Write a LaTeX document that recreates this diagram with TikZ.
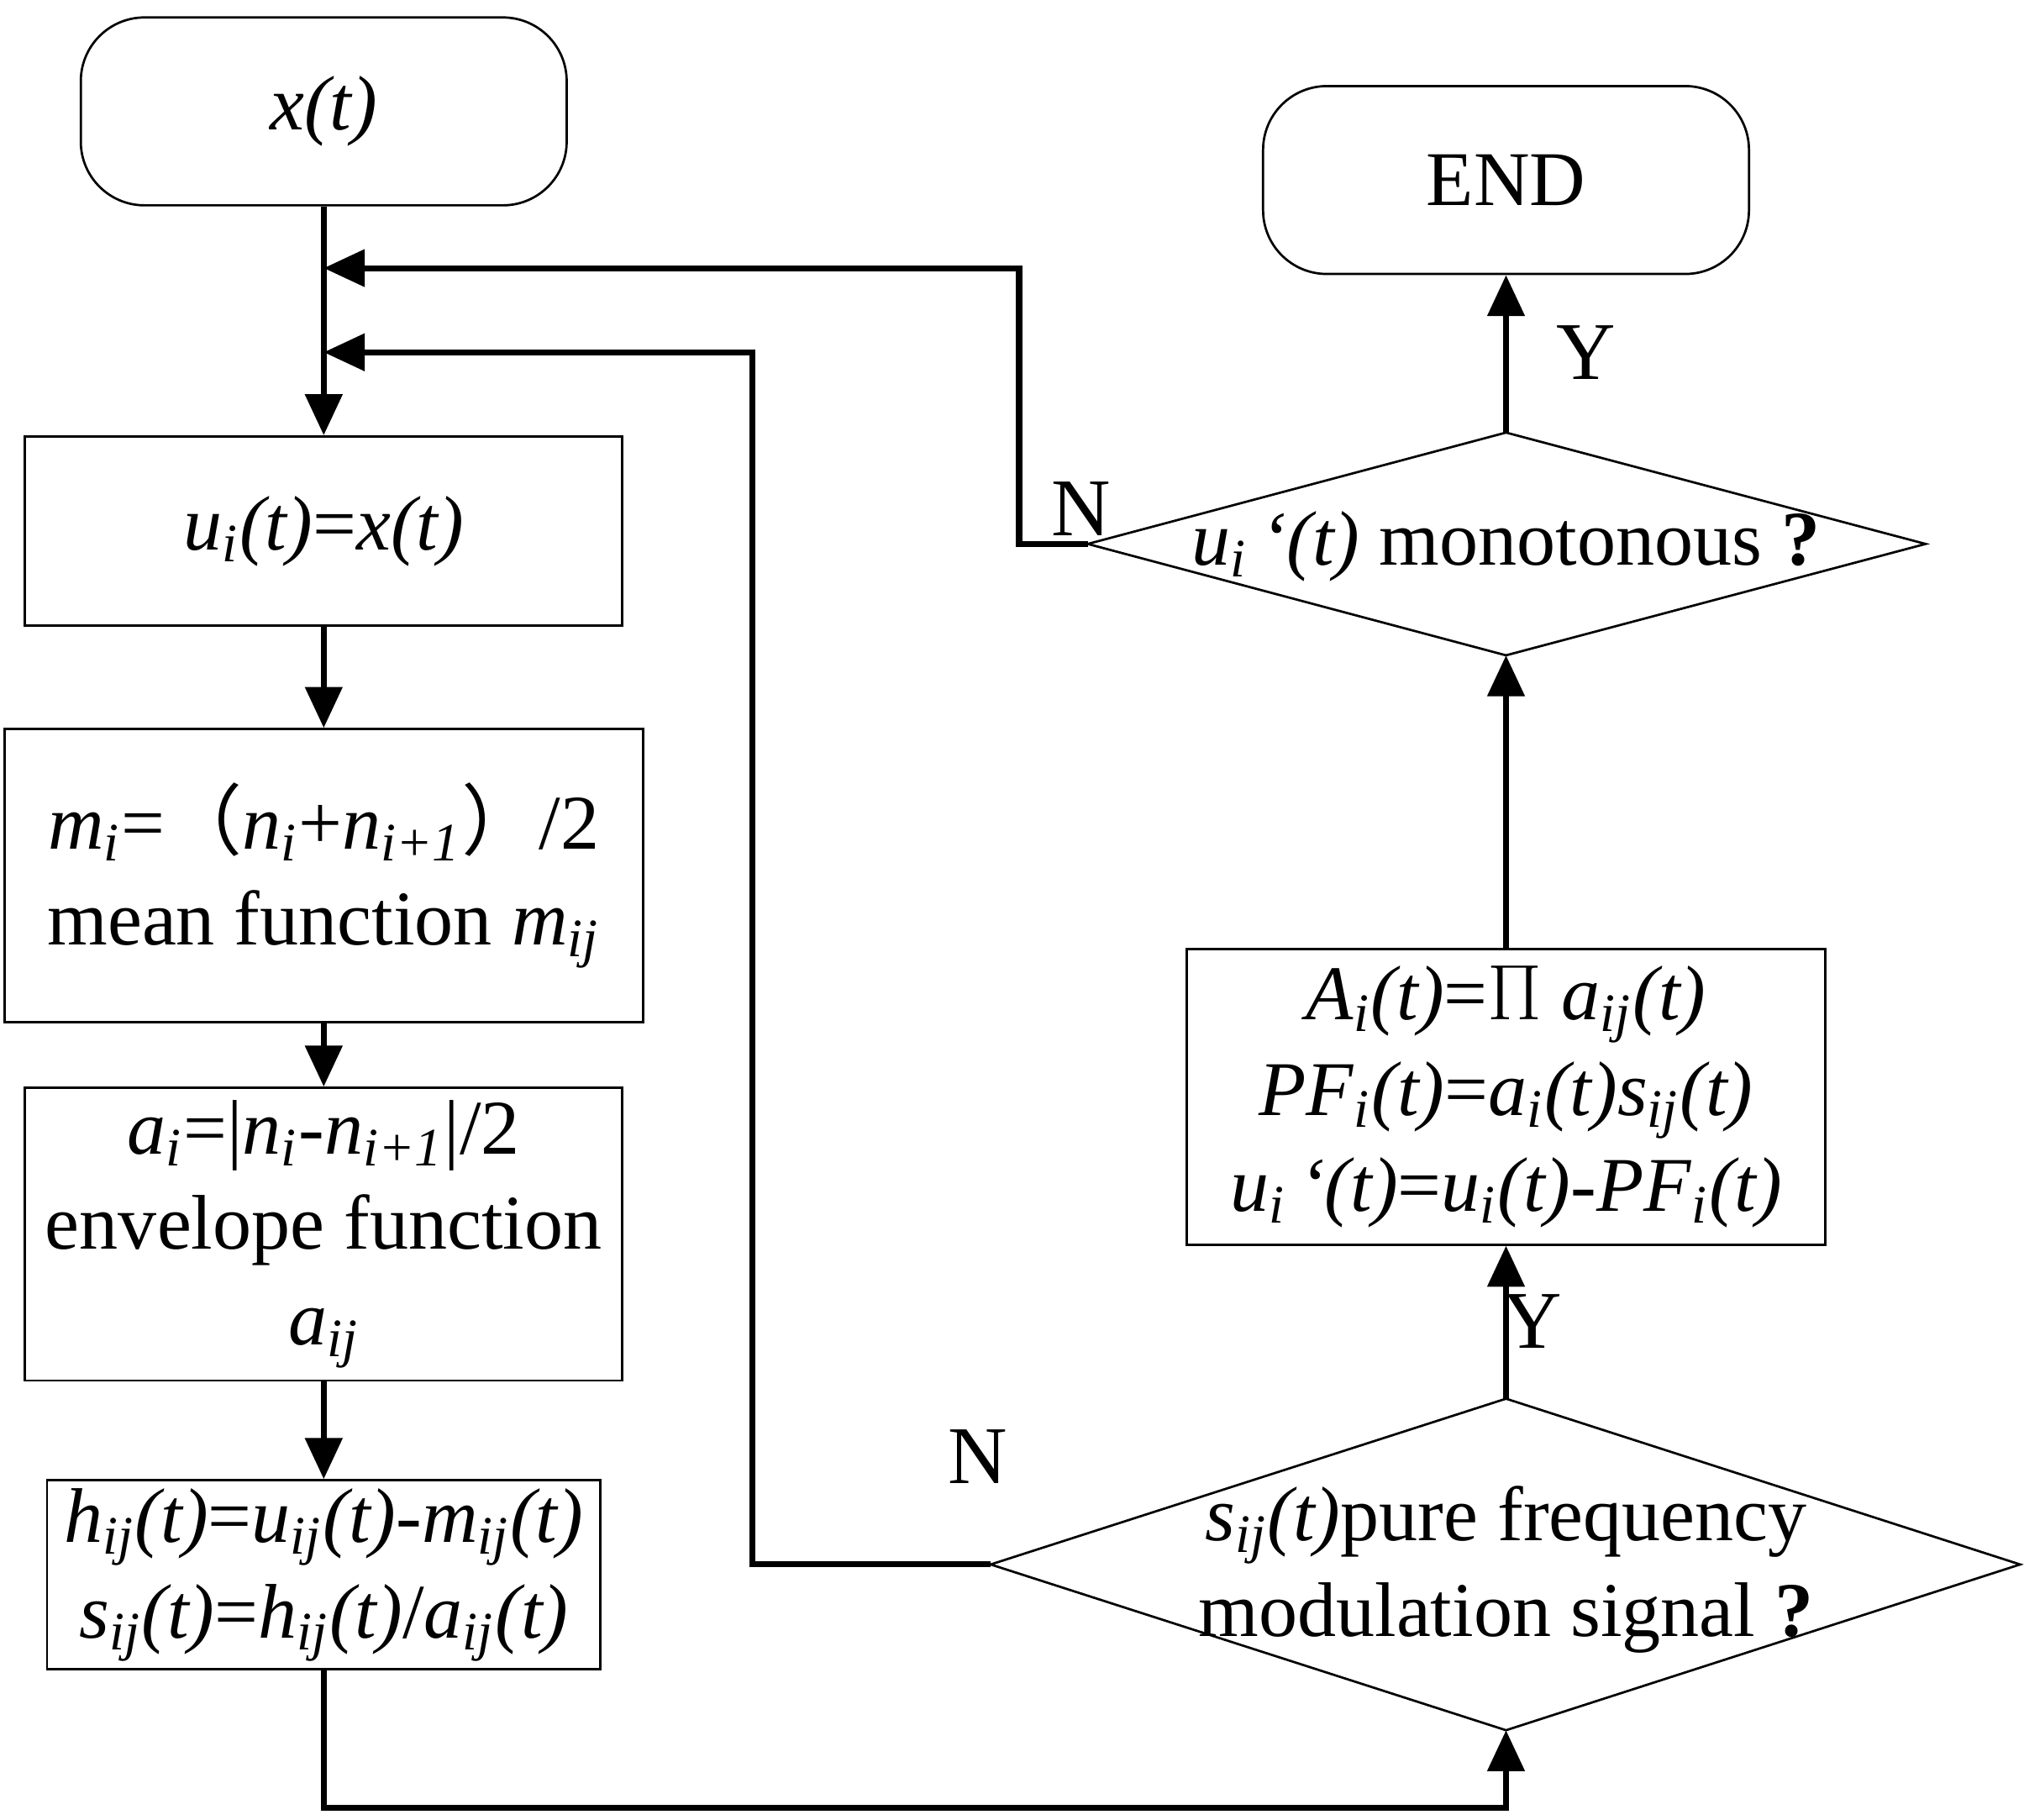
\documentclass[tikz,border=0pt]{standalone}
\usepackage{fontspec}
\setmainfont{Liberation Serif}
\newfontfamily\cjk{Noto Sans CJK SC}
\usetikzlibrary{arrows.meta}
\newcommand{\sbi}[1]{\textsubscript{\textit{#1}}}

\begin{document}
\begin{tikzpicture}[x=0.01cm, y=-0.01cm, >={Triangle[length=9pt,width=8pt]},
  font=\fontsize{17}{21}\selectfont,
  every box/.style={draw, line width=0.5pt, align=center, inner sep=0pt},
  round box/.style={every box, rounded corners=14pt},
  flow/.style={line width=1.3pt},
  lbl/.style={font=\fontsize{18}{21}\selectfont}]
\useasboundingbox (0,0) rectangle (1563,1405);

% boxes
\node [round box, minimum width=3.75cm, minimum height=1.45cm] (start) at (250,86) {\textit{x(t)}};
\node [round box, minimum width=3.75cm, minimum height=1.45cm] (end) at (1163,139) {END};
\node [every box, minimum width=4.61cm, minimum height=1.46cm] (init) at (250,410)
  {\textit{u}\sbi{i}\textit{(t)}=\textit{x(t)}};
\node [every box, minimum width=4.93cm, minimum height=2.26cm] (mean) at (250,676)
  {\textit{m}\sbi{i}={\cjk （}\textit{n}\sbi{i}+\textit{n}\sbi{i+1}{\cjk ）}/2\\ mean function \textit{m}\sbi{ij}};
\node [every box, minimum width=4.61cm, minimum height=2.26cm] (env) at (250,953)
  {\textit{a}\sbi{i}=|\textit{n}\sbi{i}-\textit{n}\sbi{i+1}|/2\\ envelope function\\ \textit{a}\sbi{ij}};
\node [every box, minimum width=4.27cm, minimum height=1.46cm] (sig) at (250,1216)
  {\textit{h}\sbi{ij}\textit{(t)}=\textit{u}\sbi{ij}\textit{(t)}-\textit{m}\sbi{ij}\textit{(t)}\\
   \textit{s}\sbi{ij}\textit{(t)}=\textit{h}\sbi{ij}\textit{(t)}/\textit{a}\sbi{ij}\textit{(t)}};
\node [every box, minimum width=4.93cm, minimum height=2.28cm] (pf) at (1163,847)
  {\textit{A}\sbi{i}\textit{(t)}=$\Pi$ \textit{a}\sbi{ij}\textit{(t)}\\
   \textit{PF}\sbi{i}\textit{(t)}=\textit{a}\sbi{i}\textit{(t)s}\sbi{ij}\textit{(t)}\\
   \textit{u}\sbi{i}\,\textit{`(t)}=\textit{u}\sbi{i}\textit{(t)}-\textit{PF}\sbi{i}\textit{(t)}};

% decisions
\coordinate (mono-w) at (840,420);  \coordinate (mono-e) at (1487,420);
\coordinate (mono-n) at (1163,334); \coordinate (mono-s) at (1163,506);
\draw [line width=0.5pt] (mono-w) -- (mono-n) -- (mono-e) -- (mono-s) -- cycle;
\node (mono) at (1163,422) {\textit{u}\sbi{i}\,\textit{`(t)} monotonous \textbf{?}};
\coordinate (fm-w) at (765,1208);  \coordinate (fm-e) at (1560,1208);
\coordinate (fm-n) at (1163,1080); \coordinate (fm-s) at (1163,1336);
\draw [line width=0.5pt] (fm-w) -- (fm-n) -- (fm-e) -- (fm-s) -- cycle;
\node [align=center] (fm) at (1163,1212) {\textit{s}\sbi{ij}\textit{(t)}pure frequency\\ modulation signal \textbf{?}};

% junctions
\coordinate (join1) at (250,207);
\coordinate (join2) at (250,272);
\coordinate (bend) at (250,1396);

% connectors
\draw [flow, ->] (start) -- (init);
\draw [flow, ->] (init) -- (mean);
\draw [flow, ->] (mean) -- (env);
\draw [flow, ->] (env) -- (sig);
\draw [flow, ->] (sig) -- (bend) -| (fm-s);
\draw [flow, ->] (fm-n) -- (pf);
\draw [flow, ->] (pf) -- (mono-s);
\draw [flow, ->] (mono-n) -- (end);
\draw [flow, ->] (mono-w) -| (787,207) -- (join1);
\draw [flow, ->] (fm-w) -| (581,272) -- (join2);

% labels
\node [lbl] (n1) at (835,393) {N};
\node [lbl] (y1) at (1225,272) {Y};
\node [lbl] (y2) at (1183,1020) {Y};
\node [lbl] (n2) at (755,1125) {N};
\end{tikzpicture}
\end{document}
